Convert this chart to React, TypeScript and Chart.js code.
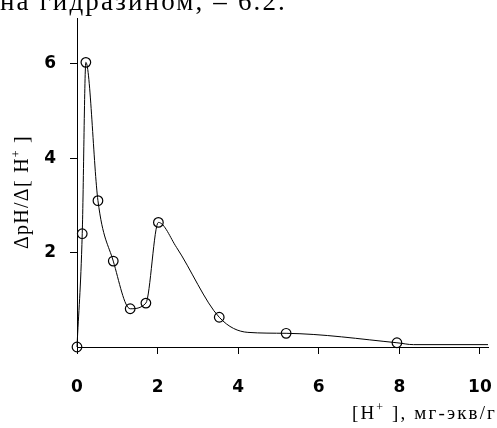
import React, { useEffect, useRef } from "react";
import { Chart, registerables } from "chart.js";
Chart.register(...registerables);

// measured points (circles)
const pointX = [0, 0.13, 0.22, 0.52, 0.9, 1.32, 1.71, 2.02, 3.53, 5.19, 7.94];
const pointY = [0, 2.4, 6.03, 3.1, 1.82, 0.81, 0.93, 2.64, 0.63, 0.29, 0.09];
// drawn curve trace
const curveX = [0, 0.13, 0.22, 0.52, 0.9, 1.32, 1.71, 2.02, 2.47, 3.53, 4.24, 5.19, 7.94, 8.35, 10.2];
const curveY = [0, 2.4, 6.03, 3.1, 1.82, 0.81, 0.93, 2.64, 2.11, 0.63, 0.31, 0.29, 0.09, 0.05, 0.05];
const xTicks = [0, 2, 4, 6, 8, 10];
const yTicks = [2, 4, 6];
const xMax = 10.2;
const yMax = 6.97;

type Seg = { text: string; sup?: boolean };
const headText: Seg[] = [{ text: "на гидразином, – 6.2." }];
const yTitle: Seg[] = [{ text: "ΔpH/Δ[ H" }, { text: "+", sup: true }, { text: " ]" }];
const xTitle: Seg[] = [{ text: "[H" }, { text: "+", sup: true }, { text: " ], мг-экв/г" }];

const SERIF = "'Liberation Serif', 'Times New Roman', serif";
const TICKFONT = "'DejaVu Sans', 'Liberation Sans', Arial, sans-serif";

function drawRich(ctx: CanvasRenderingContext2D, segs: Seg[], x: number, y: number, size: number, target: number) {
  const supSize = Math.round(size * 0.62);
  const c: any = ctx;
  c.letterSpacing = "0px";
  let natural = 0;
  let chars = 0;
  const widths: number[] = [];
  for (const s of segs) {
    ctx.font = `${s.sup ? supSize : size}px ${SERIF}`;
    const w = ctx.measureText(s.text).width;
    widths.push(w);
    natural += w;
    chars += [...s.text].length;
  }
  const sp = target > 0 ? Math.max(0, (target - natural) / chars) : 0;
  let cx = x;
  segs.forEach((s, i) => {
    ctx.font = `${s.sup ? supSize : size}px ${SERIF}`;
    c.letterSpacing = `${sp}px`;
    ctx.fillText(s.text, cx, s.sup ? y - size * 0.42 : y);
    cx += widths[i] + sp * [...s.text].length;
  });
  c.letterSpacing = "0px";
}

const textPlugin = {
  id: "texts",
  afterDraw(chart: any) {
    const ctx: CanvasRenderingContext2D = chart.ctx;
    ctx.save();
    ctx.fillStyle = "#000";
    ctx.textAlign = "left";
    ctx.textBaseline = "alphabetic";
    drawRich(ctx, headText, 0, 10, 27, 287);
    drawRich(ctx, xTitle, 352, 419, 19, 145);
    ctx.translate(28, 249);
    ctx.rotate(-Math.PI / 2);
    drawRich(ctx, yTitle, 0, 0, 20, 114);
    ctx.restore();
  },
};

export default function App() {
  const ref = useRef<HTMLCanvasElement>(null);
  useEffect(() => {
    const chart = new Chart(ref.current!, {
      type: "line",
      data: {
        datasets: [
          {
            type: "line",
            data: curveX.map((x, i) => ({ x, y: curveY[i] })),
            borderColor: "#000",
            borderWidth: 1,
            pointRadius: 0,
            cubicInterpolationMode: "monotone",
            fill: false,
            clip: false as any,
          },
          {
            type: "scatter",
            data: pointX.map((x, i) => ({ x, y: pointY[i] })),
            borderColor: "#000",
            backgroundColor: "rgba(0,0,0,0)",
            borderWidth: 1.2,
            pointRadius: 4.8,
            pointStyle: "circle",
            showLine: false,
            clip: false as any,
          },
        ],
      },
      options: {
        responsive: false,
        animation: false,
        devicePixelRatio: 1,
        layout: { padding: { top: 18, right: 9, left: 0, bottom: 0 } },
        plugins: { legend: { display: false }, tooltip: { enabled: false } },
        scales: {
          x: {
            type: "linear",
            min: 0,
            max: xMax,
            afterFit: (s: any) => { s.height = 81; s.paddingLeft = 0; s.paddingRight = 0; },
            afterBuildTicks: (s: any) => { s.ticks = xTicks.map((v) => ({ value: v })); },
            grid: { display: true, drawOnChartArea: false, drawTicks: true, tickLength: 7, color: "#000", lineWidth: 1 },
            border: { display: true, color: "#000", width: 1 },
            ticks: { color: "#000", font: { family: TICKFONT, size: 17, weight: "bold" }, padding: 23, maxRotation: 0, autoSkip: false },
          },
          y: {
            type: "linear",
            min: 0,
            max: yMax,
            afterFit: (s: any) => { s.width = 77; s.paddingTop = 0; s.paddingBottom = 0; },
            afterBuildTicks: (s: any) => { s.ticks = yTicks.map((v) => ({ value: v })); },
            grid: { display: true, drawOnChartArea: false, drawTicks: true, tickLength: 7, color: "#000", lineWidth: 1 },
            border: { display: true, color: "#000", width: 1 },
            ticks: { color: "#000", font: { family: TICKFONT, size: 17, weight: "bold" }, padding: 14, autoSkip: false },
          },
        },
      },
      plugins: [textPlugin],
    } as any);
    return () => chart.destroy();
  }, []);
  return (
    <div style={{ position: "fixed", left: 0, top: 0, width: 497, height: 428, background: "#fff" }}>
      <canvas ref={ref} width={497} height={428} style={{ width: 497, height: 428, display: "block" }} />
    </div>
  );
}
